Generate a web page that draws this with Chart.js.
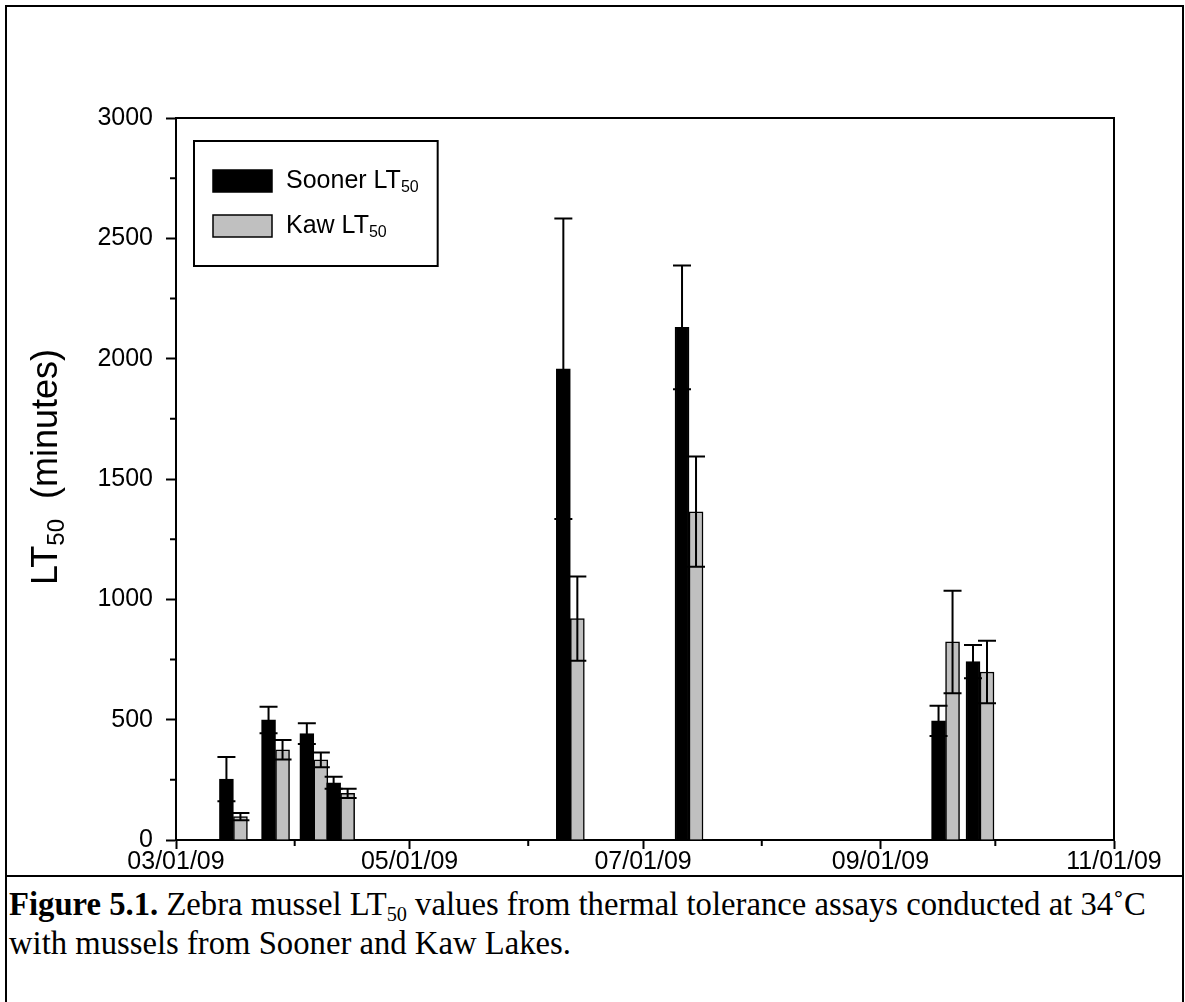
<!DOCTYPE html>
<html>
<head>
<meta charset="utf-8">
<title>Zebra mussel LT50</title>
<script src="https://cdn.jsdelivr.net/npm/chart.js@4.4.0/dist/chart.umd.min.js"></script>
<style>
  body { margin: 0; background: #fff; }
  #page { position: relative; width: 1185px; height: 1002px; overflow: hidden; background: #fff; }
  #frame { position: absolute; left: 5px; top: 5px; width: 1179px; height: 1020px; border: 2px solid #000; box-sizing: border-box; }
  #wrap { position: absolute; left: 0; top: 0; width: 1185px; height: 876px; }
  #sep { position: absolute; left: 5px; top: 875px; width: 1179px; height: 2px; background: #000; }
  #caption { position: absolute; left: 9px; top: 887px; font-family: "Liberation Serif", "Times New Roman", serif; font-size: 32.7px; line-height: 35px; color: #000; white-space: nowrap; }
  #caption sub { font-size: 0.62em; vertical-align: baseline; position: relative; top: 0.28em; }
</style>
</head>
<body>
<div id="page">
  <div id="frame"></div>
  <div id="wrap"><canvas id="lt50Chart" width="1185" height="876"></canvas></div>
  <div id="sep"></div>
  <div id="caption"><b>Figure 5.1.</b> Zebra mussel LT<sub>50</sub> values from thermal tolerance assays conducted at 34˚C<br>with mussels from Sooner and Kaw Lakes.</div>
</div>
<script>
/* ---------- data ---------- */
const sampleDates = ['2009-03-16', '2009-03-27', '2009-04-06', '2009-04-13', '2009-06-12', '2009-07-13', '2009-09-18', '2009-09-27'];
const soonerLT50 = [253, 499, 442, 238, 1958, 2130, 495, 741];
const soonerErr  = [92, 55, 43, 25, 624, 257, 63, 69];
const kawLT50    = [97, 375, 333, 194, 920, 1364, 823, 698];
const kawErr     = [15, 41, 31, 19, 175, 229, 213, 130];

const majorDates = ['2009-03-01', '2009-05-01', '2009-07-01', '2009-09-01', '2009-11-01'];
const majorLabels = ['03/01/09', '05/01/09', '07/01/09', '09/01/09', '11/01/09'];
const minorDates = ['2009-04-01', '2009-06-01', '2009-08-01', '2009-10-01'];
const yMinorTicks = [250, 750, 1250, 1750, 2250, 2750];

const seriesNames = ['Sooner LT', 'Kaw LT'];
const seriesColors = ['#000000', '#c0c0c0'];

/* days counted from 03/01/09 */
const DAY0 = Date.UTC(2009, 2, 1);
const toDay = s => (new Date(s + 'T00:00:00Z').getTime() - DAY0) / 86400000;
const xs = sampleDates.map(toDay);
const majorDays = majorDates.map(toDay);
const minorDays = minorDates.map(toDay);

const SANS = '"Liberation Sans", Arial, sans-serif';

/* ---------- plugins ---------- */
// error bars: vertical line with caps above and below each bar
const errorBars = {
  id: 'errorBars',
  afterDatasetsDraw(chart) {
    const ctx = chart.ctx;
    const yScale = chart.scales.y;
    [soonerErr, kawErr].forEach((errs, di) => {
      const meta = chart.getDatasetMeta(di);
      const vals = di === 0 ? soonerLT50 : kawLT50;
      meta.data.forEach((bar, i) => {
        const top = yScale.getPixelForValue(vals[i] + errs[i]);
        const bot = yScale.getPixelForValue(vals[i] - errs[i]);
        const x = bar.x;
        ctx.save();
        ctx.strokeStyle = '#000';
        ctx.lineWidth = 2;
        ctx.beginPath();
        ctx.moveTo(x, top); ctx.lineTo(x, bot);
        ctx.moveTo(x - 9, top); ctx.lineTo(x + 9, top);
        ctx.moveTo(x - 9, bot); ctx.lineTo(x + 9, bot);
        ctx.stroke();
        ctx.restore();
      });
    });
  }
};

// box around the plot, minor ticks, y title and legend
const decorations = {
  id: 'decorations',
  afterDraw(chart) {
    const ctx = chart.ctx;
    const a = chart.chartArea;
    const xScale = chart.scales.x, yScale = chart.scales.y;
    ctx.save();
    ctx.strokeStyle = '#000';
    ctx.lineWidth = 2;
    ctx.beginPath();
    ctx.moveTo(a.left, a.top); ctx.lineTo(a.right, a.top); ctx.lineTo(a.right, a.bottom);
    // minor ticks
    minorDays.forEach(d => {
      const px = xScale.getPixelForValue(d);
      ctx.moveTo(px, a.bottom); ctx.lineTo(px, a.bottom + 6);
    });
    yMinorTicks.forEach(v => {
      const py = yScale.getPixelForValue(v);
      ctx.moveTo(a.left, py); ctx.lineTo(a.left - 6, py);
    });
    ctx.stroke();

    // y axis title with subscript
    ctx.fillStyle = '#000';
    ctx.translate(47, 467);
    ctx.rotate(-Math.PI / 2);
    const big = '36px ' + SANS, small = '24px ' + SANS;
    ctx.font = big;
    const wLT = ctx.measureText('LT').width;
    const wRest = ctx.measureText('  (minutes)').width;
    ctx.font = small;
    const wSub = ctx.measureText('50').width;
    const x0 = -(wLT + wSub + wRest) / 2;
    ctx.textBaseline = 'middle';
    ctx.font = big;
    ctx.fillText('LT', x0, 0);
    ctx.font = small;
    ctx.fillText('50', x0 + wLT, 10);
    ctx.font = big;
    ctx.fillText('  (minutes)', x0 + wLT + wSub, 0);
    ctx.restore();

    // legend
    ctx.save();
    const rows = [181, 226];
    let textRight = 0;
    seriesNames.forEach((name, i) => {
      ctx.fillStyle = seriesColors[i];
      ctx.fillRect(213, rows[i] - 11, 59, 22);
      ctx.strokeStyle = '#000';
      ctx.lineWidth = 1.5;
      ctx.strokeRect(213, rows[i] - 11, 59, 22);
      ctx.fillStyle = '#000';
      ctx.textBaseline = 'middle';
      ctx.font = '25px ' + SANS;
      ctx.fillText(name, 286, rows[i]);
      const w = ctx.measureText(name).width;
      ctx.font = '16px ' + SANS;
      ctx.fillText('50', 286 + w, rows[i] + 7);
      textRight = Math.max(textRight, 286 + w + ctx.measureText('50').width);
    });
    ctx.lineWidth = 2;
    ctx.strokeRect(194, 141, textRight + 19 - 194, 125);
    ctx.restore();
  }
};

/* ---------- chart ---------- */
new Chart(document.getElementById('lt50Chart'), {
  type: 'bar',
  data: {
    datasets: [
      {
        label: 'Sooner LT50',
        data: xs.map((x, i) => ({ x, y: soonerLT50[i] })),
        backgroundColor: seriesColors[0],
        borderColor: '#000',
        borderWidth: 1.5,
        barThickness: 14
      },
      {
        label: 'Kaw LT50',
        data: xs.map((x, i) => ({ x, y: kawLT50[i] })),
        backgroundColor: seriesColors[1],
        borderColor: '#000',
        borderWidth: 1.5,
        barThickness: 14
      }
    ]
  },
  options: {
    responsive: false,
    animation: false,
    layout: { padding: { left: 0, right: 71, top: 118, bottom: 0 } },
    plugins: { legend: { display: false }, tooltip: { enabled: false } },
    scales: {
      x: {
        type: 'linear',
        min: 0,
        max: 245,
        offset: false,
        afterBuildTicks: s => { s.ticks = majorDays.map(v => ({ value: v })); },
        afterFit: s => { s.height = 36; },
        grid: { offset: false, drawOnChartArea: false, tickLength: 9, tickColor: '#000', tickWidth: 2 },
        border: { display: true, color: '#000', width: 2 },
        ticks: {
          color: '#000',
          font: { family: SANS, size: 25 },
          padding: -2,
          maxRotation: 0,
          autoSkip: false,
          callback: v => majorLabels[majorDays.indexOf(v)]
        }
      },
      y: {
        min: 0,
        max: 3000,
        afterFit: s => { s.width = 176; },
        grid: { drawOnChartArea: false, tickLength: 10, tickColor: '#000', tickWidth: 2 },
        border: { display: true, color: '#000', width: 2 },
        ticks: {
          stepSize: 500,
          color: '#000',
          padding: 13,
          font: { family: SANS, size: 25 },
          callback: v => String(v)
        }
      }
    }
  },
  plugins: [errorBars, decorations]
});
</script>
</body>
</html>
